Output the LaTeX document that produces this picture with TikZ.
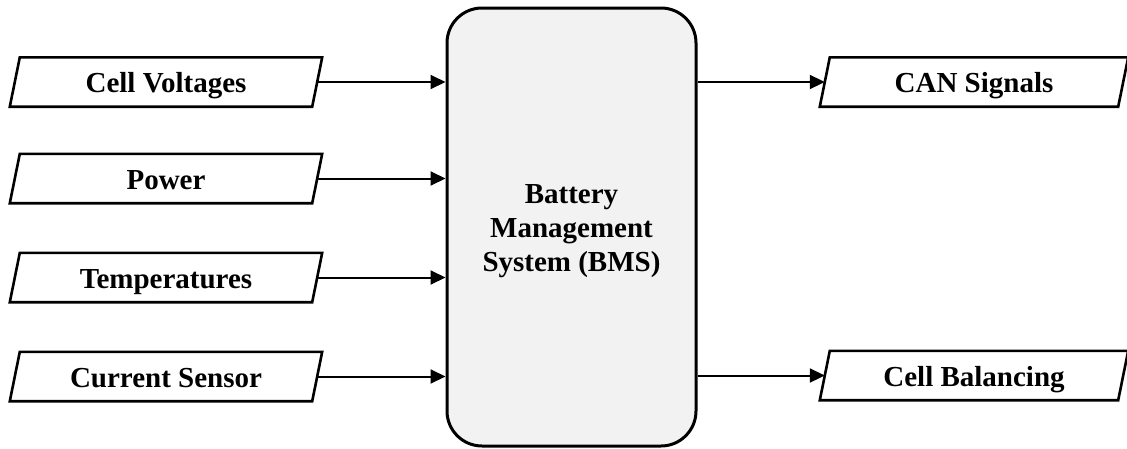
\documentclass[tikz,border=0pt]{standalone}
\usepackage{fontspec}
\setmainfont{Liberation Serif}
\usetikzlibrary{arrows.meta}
\begin{document}
\begin{tikzpicture}[x=1pt,y=-1pt,
  iobox/.style={inner sep=0pt, minimum width=302pt, minimum height=49pt,
    text height=21pt, text depth=0pt,
    font=\fontsize{29}{34}\selectfont\bfseries,
    append after command={\pgfextra{\draw[line width=2.6pt, line join=miter]
      ([xshift=-5pt]\tikzlastnode.south west) -- ([xshift=5pt]\tikzlastnode.north west)
      -- ([xshift=5pt]\tikzlastnode.north east) -- ([xshift=-5pt]\tikzlastnode.south east)
      -- cycle;}}},
  bmsbox/.style={draw, line width=3pt, fill=black!5, rounded corners=35pt,
    minimum width=249pt, minimum height=438pt, inner sep=0pt, align=center,
    font=\fontsize{29}{34}\selectfont\bfseries},
  arr/.style={line width=2pt, -{Triangle[length=15pt,width=14pt]}}
]
\useasboundingbox (0,0) rectangle (1127,448);
\node[bmsbox] (bms) at (571.5,227) {\rule{0pt}{28pt}Battery\\Management\\System (BMS)};
\node[iobox] (cv) at (166,82) {Cell Voltages};
\node[iobox] (pw) at (166,178.5) {Power};
\node[iobox] (tp) at (166,277.5) {Temperatures};
\node[iobox] (cs) at (166,376.5) {Current Sensor};
\node[iobox, minimum width=298pt] (can) at (974,82) {CAN Signals};
\node[iobox, minimum width=298pt] (cb) at (974,375.5) {Cell Balancing};
\draw[arr] (cv.east) -- (cv.east -| bms.west);
\draw[arr] (pw.east) -- (pw.east -| bms.west);
\draw[arr] (tp.east) -- (tp.east -| bms.west);
\draw[arr] (cs.east) -- (cs.east -| bms.west);
\draw[arr] (can.west -| bms.east) -- (can.west);
\draw[arr] (cb.west -| bms.east) -- (cb.west);
\end{tikzpicture}
\end{document}
